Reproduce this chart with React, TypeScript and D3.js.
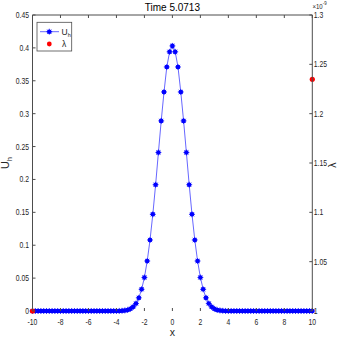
import React from "react";
import * as d3 from "d3";

const xs: number[] = d3.range(101).map((i) => -10 + i * 0.2);
const uh: number[] = [
  // x = -10 .. -4.0
  0, 0, 0, 0, 0, 0, 0, 0, 0, 0,
  0, 0, 0, 0, 0, 0, 0, 0, 0, 0,
  0, 0, 0, 0, 0, 0, 0, 0, 0, 0,
  0,
  // x = -3.8 .. -0.2
  0.0001, 0.0003, 0.0008, 0.0016, 0.0033, 0.0063, 0.0115, 0.02, 0.033, 0.051,
  0.076, 0.108, 0.147, 0.192, 0.241, 0.289, 0.333, 0.371, 0.394,
  // x = 0
  0.403,
  // x = 0.2 .. 3.8
  0.394, 0.371, 0.333, 0.289, 0.241, 0.192, 0.147, 0.108, 0.076, 0.051,
  0.033, 0.02, 0.0115, 0.0063, 0.0033, 0.0016, 0.0008, 0.0003, 0.0001,
  // x = 4.0 .. 10
  0, 0, 0, 0, 0, 0, 0, 0, 0, 0,
  0, 0, 0, 0, 0, 0, 0, 0, 0, 0,
  0, 0, 0, 0, 0, 0, 0, 0, 0, 0,
  0,
];
const lambdaX: number[] = [-10, 10];
const lambdaY: number[] = [1.0, 1.2348];
const xTicks: number[] = [-10, -8, -6, -4, -2, 0, 2, 4, 6, 8, 10];
const yLTicks: number[] = [0, 0.05, 0.1, 0.15, 0.2, 0.25, 0.3, 0.35, 0.4, 0.45];
const yRTicks: number[] = [1, 1.05, 1.1, 1.15, 1.2, 1.25, 1.3];
const title = "Time 5.0713";

export default function App() {
  const L = 32.5, R = 312.3, T = 15, B = 311;
  const x = d3.scaleLinear().domain([-10, 10]).range([L, R]);
  const yL = d3.scaleLinear().domain([0, 0.45]).range([B, T]);
  const yR = d3.scaleLinear().domain([1, 1.3]).range([B, T]);
  const line = d3.line<number>().x((_, i) => x(xs[i])).y((d) => yL(d));
  const axisC = "#4d4d4d";
  const font = "'Liberation Sans', Arial, sans-serif";
  const tl = 3;
  const fs = 8.5;
  const sx = 0.8;
  const Lab = ({ px, py, anchor, children }: { px: number; py: number; anchor: string; children: any }) => (
    <text transform={`translate(${px},${py}) scale(${sx},1)`} fontSize={fs} textAnchor={anchor} fill="#262626">{children}</text>
  );
  const Marker = ({ cx, cy, c }: { cx: number; cy: number; c: string }) => (
    <g>
      <circle cx={cx} cy={cy} r={2.3} fill={c} />
      <path d={`M${cx - 3},${cy}H${cx + 3}M${cx},${cy - 3}V${cy + 3}M${cx - 2.1},${cy - 2.1}L${cx + 2.1},${cy + 2.1}M${cx - 2.1},${cy + 2.1}L${cx + 2.1},${cy - 2.1}`} stroke={c} strokeWidth={0.7} />
    </g>
  );
  return (
    <svg width={341} height={341} style={{ position: "absolute", left: 0, top: 0, background: "#fff" }} fontFamily={font}>
      <rect x={0} y={0} width={341} height={341} fill="#fff" />
      <path d={line(uh) || ""} fill="none" stroke="#0000ff" strokeWidth={0.6} />
      {uh.map((v, i) => (
        <Marker key={i} cx={x(xs[i])} cy={yL(v)} c="#0000ff" />
      ))}
      {lambdaX.map((v, i) => (
        <circle key={"l" + i} cx={x(v)} cy={yR(lambdaY[i])} r={2.6} fill="#ff0000" />
      ))}
      <path d={`M${L},${B}V${T}H${R}V${B}`} fill="none" stroke={axisC} strokeWidth={1} />
      {xTicks.map((t) => (
        <g key={"x" + t}>
          <line x1={x(t)} x2={x(t)} y1={B} y2={B - tl} stroke={axisC} />
          <line x1={x(t)} x2={x(t)} y1={T} y2={T + tl} stroke={axisC} />
          <Lab px={x(t)} py={B + 14} anchor="middle">{t}</Lab>
        </g>
      ))}
      {yLTicks.map((t) => (
        <g key={"yl" + t}>
          <line x1={L} x2={L + tl} y1={yL(t)} y2={yL(t)} stroke={axisC} />
          <Lab px={L - 3.5} py={yL(t) + 3} anchor="end">{t}</Lab>
        </g>
      ))}
      {yRTicks.map((t) => (
        <g key={"yr" + t}>
          <line x1={R} x2={R - tl} y1={yR(t)} y2={yR(t)} stroke={axisC} />
          <Lab px={R + 1.5} py={yR(t) + 3} anchor="start">{t}</Lab>
        </g>
      ))}
      <text transform={`translate(312.5,9) scale(0.8,1)`} fontSize={7.5} fill="#262626">×10<tspan dy={-4} fontSize={5.5}>-9</tspan></text>
      <text x={(L + R) / 2} y={11} fontSize={10} textAnchor="middle" fill="#000">{title}</text>
      <text x={(L + R) / 2} y={336} fontSize={10.5} textAnchor="middle" fill="#262626">x</text>
      <text transform={`translate(8.5,${(T + B) / 2}) rotate(-90)`} fontSize={11} textAnchor="middle" fill="#262626">U<tspan dy={3} fontSize={7}>h</tspan></text>
      <text transform={`translate(336,${(T + B) / 2 + 2}) rotate(-90)`} fontSize={10.5} textAnchor="middle" fill="#262626">λ</text>
      <rect x={37} y={22.3} width={34.7} height={28.7} fill="#fff" stroke={axisC} strokeWidth={0.8} />
      <line x1={40} x2={59} y1={31.7} y2={31.7} stroke="#0000ff" strokeWidth={0.6} />
      <Marker cx={49.3} cy={31.7} c="#0000ff" />
      <text x={61.5} y={34.5} fontSize={8.5} fill="#262626">U<tspan dy={2} fontSize={5.5}>h</tspan></text>
      <circle cx={49.3} cy={44} r={2.4} fill="#ff0000" />
      <text x={62} y={47} fontSize={8.5} fill="#262626">λ</text>
    </svg>
  );
}
